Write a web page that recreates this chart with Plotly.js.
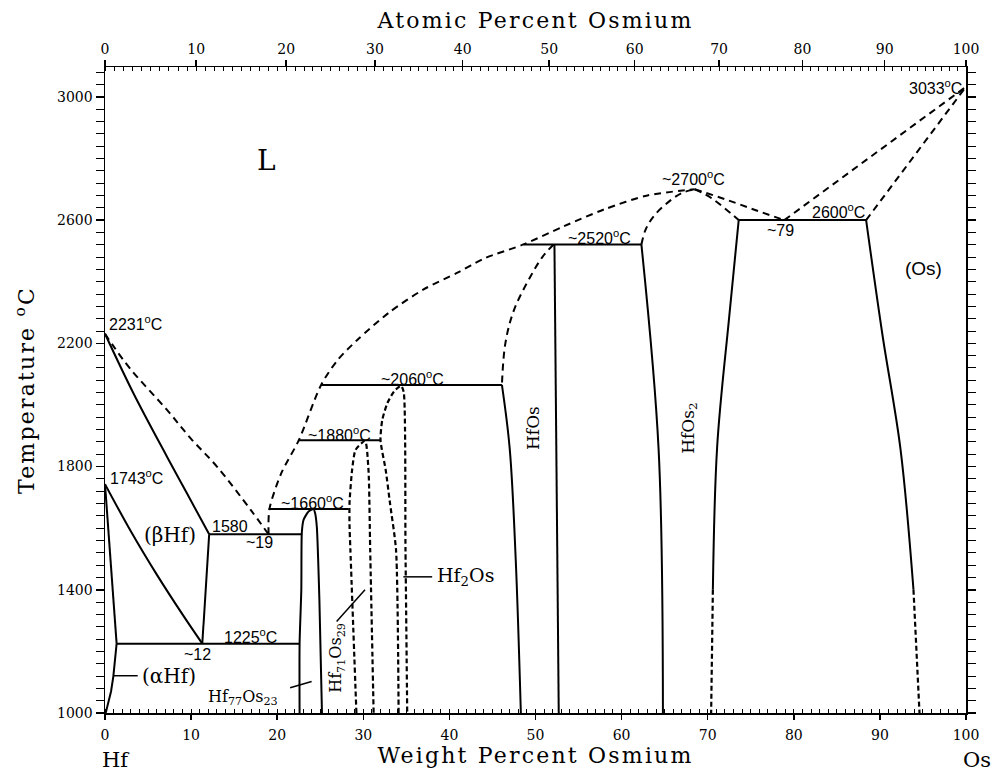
<!DOCTYPE html>
<html><head><meta charset="utf-8">
<script src="https://cdn.plot.ly/plotly-3.0.1.min.js"></script>
<style>
html,body{margin:0;padding:0;background:#fff;}
#chart{width:992px;height:775px;}
svg text.xtitle, svg text.x2title, svg text.ytitle {letter-spacing:2.2px;}
</style></head><body><div id="chart"></div><script>
// ---------- data (wt% Os, temperature °C) ----------
const liqHfX = [0, 1, 3, 7.2, 10, 13, 16.9, 19];
const liqHfT = [2231, 2190, 2115, 1984, 1890, 1800, 1660, 1580];
const solBetaX = [0, 3.3, 7.2, 9.5, 12.1];
const solBetaT = [2231, 2038, 1832, 1714, 1580];
const betaSolvX = [12.1, 11.3];
const betaSolvT = [1580, 1225];
const betaTransX = [0, 3, 6, 9, 11.3];
const betaTransT = [1743, 1590, 1450, 1320, 1225];
const alphaTransX = [0, 1.35];
const alphaTransT = [1743, 1225];
const alphaSolvX = [1.35, 1.2, 0.97, 0.7, 0.4, 0.08];
const alphaSolvT = [1225, 1180, 1119, 1070, 1032, 1000];
const hf77X = [22.6, 22.6, 22.8, 22.86, 23.06, 23.64, 24.22, 24.4, 24.6, 24.9, 25.2];
const hf77T = [1000, 1225, 1400, 1586, 1627, 1654, 1662, 1649, 1605, 1368, 1000];
const hf71X = [29.2, 28.5, 28.4, 28.4, 28.7, 29.1, 30.2, 30.6, 30.8, 31.2];
const hf71T = [1000, 1530, 1610, 1681, 1789, 1854, 1883, 1789, 1530, 1000];
const hf2OsX = [34.1, 33.8, 33.1, 32.6, 32.0, 32.2, 32.8, 33.6, 34.4, 34.7, 34.9, 35.1];
const hf2OsT = [1000, 1530, 1681, 1789, 1885, 1951, 2006, 2045, 2062, 2040, 1530, 1000];
const domeX = [19, 19.1, 20.5, 22.5, 25.1, 27, 29.3, 33, 37, 41, 44, 48.6, 53.3, 58, 63, 68.5];
const domeT = [1580, 1662, 1780, 1885, 2065, 2145, 2211, 2300, 2375, 2430, 2475, 2521, 2580, 2635, 2680, 2700];
const hfOsDashX = [52.1, 50.8, 49.4, 47.5, 46.5, 46.1];
const hfOsDashT = [2521, 2480, 2416, 2308, 2200, 2065];
const hfOsLeftX = [46.1, 47.0, 47.7, 48.3];
const hfOsLeftT = [2065, 1860, 1500, 1000];
const hfOsRightX = [52.2, 52.7];
const hfOsRightT = [2521, 1000];
const hfOs2DashLX = [62.3, 62.8, 63.8, 65.5, 67, 68.5];
const hfOs2DashLT = [2521, 2570, 2615, 2660, 2688, 2700];
const hfOs2LeftX = [62.3, 64.3, 64.8];
const hfOs2LeftT = [2521, 1855, 1000];
const hfOs2DashRX = [68.5, 70.5, 73.6];
const hfOs2DashRT = [2700, 2670, 2600];
const hfOs2RightX = [73.6, 72.5, 71.1, 70.6];
const hfOs2RightT = [2600, 2287, 1865, 1400];
const hfOs2LowX = [70.6, 70.4];
const hfOs2LowT = [1400, 1000];
const liq79X = [68.5, 72, 75.5, 78.9];
const liq79T = [2700, 2668, 2633, 2600];
const liqOsX = [78.9, 100];
const liqOsT = [2600, 3033];
const solOsX = [88.4, 100];
const solOsT = [2600, 3033];
const osSolvX = [88.4, 90.3, 92.4, 93.9];
const osSolvT = [2600, 2227, 1855, 1400];
const osSolvLowX = [93.9, 94.6];
const osSolvLowT = [1400, 1000];
// invariant isotherms [x1, x2, T]
const iso1225 = [1.35, 22.6, 1225];
const iso1580 = [12.1, 22.9, 1580];
const iso1660 = [19.0, 28.3, 1662];
const iso1880 = [22.5, 32.0, 1885];
const iso2060 = [25.1, 46.1, 2065];
const iso2520 = [48.6, 62.3, 2521];
const iso2600 = [73.6, 88.4, 2600];
// leader lines
const alphaLeadX = [0.93, 3.8], alphaLeadT = [1121, 1121];
const hf77LeadX = [21.5, 24.0], hf77LeadT = [1082, 1102];
const hf71LeadX = [26.9, 30.2], hf71LeadT = [1297, 1400];
const hf2OsLeadX = [34.65, 38.0], hf2OsLeadT = [1442, 1442];
// axes
const wtTicks = [0,10,20,30,40,50,60,70,80,90,100];
const atTicks = [0,10,20,30,40,50,60,70,80,90,100];
const tempTicks = [1000,1400,1800,2200,2600,3000];
const M_HF = 178.49, M_OS = 190.23;
function atToWt(a){ return 100*a*M_OS/(a*M_OS+(100-a)*M_HF); }
const atMinor = [];
for (let a = 0; a <= 100; a++) atMinor.push(atToWt(a));

// ---------- traces ----------
const traces = [];
function ln(x, y, dashed, dashpat, w, smooth){
  const line = {color:'#000', width: w || 2, dash: dashed ? (dashpat || '7px,5px') : 'solid'};
  if (smooth) { line.shape = 'spline'; line.smoothing = smooth; }
  traces.push({x:x, y:y, type:'scatter', mode:'lines', hoverinfo:'skip', showlegend:false, line:line});
}
function iso(a){ ln([a[0], a[1]], [a[2], a[2]], false); }
ln(liqHfX, liqHfT, true, null, 2, 1);
ln(solBetaX, solBetaT, false, null, 2, 1);
ln(betaSolvX, betaSolvT, false);
ln(betaTransX, betaTransT, false, null, 2, 1);
ln(alphaTransX, alphaTransT, false);
ln(alphaSolvX, alphaSolvT, false);
ln(hf77X, hf77T, false, null, 2, 0.6);
ln(hf71X, hf71T, true, '5px,3px', 2.2, 0.6);
ln(hf2OsX, hf2OsT, true, '5px,3px', 2.2, 0.6);
ln(domeX, domeT, true, null, 2, 0.8);
ln(hfOsDashX, hfOsDashT, true, null, 2, 1);
ln(hfOsLeftX, hfOsLeftT, false, null, 2, 1);
ln(hfOsRightX, hfOsRightT, false);
ln(hfOs2DashLX, hfOs2DashLT, true, null, 2, 1);
ln(hfOs2LeftX, hfOs2LeftT, false, null, 2, 1);
ln(hfOs2DashRX, hfOs2DashRT, true, null, 2, 1);
ln(hfOs2RightX, hfOs2RightT, false, null, 2, 1);
ln(hfOs2LowX, hfOs2LowT, true, '5px,3px', 2.2);
ln(liq79X, liq79T, true, null, 2, 1);
ln(liqOsX, liqOsT, true);
ln(solOsX, solOsT, true);
ln(osSolvX, osSolvT, false, null, 2, 1);
ln(osSolvLowX, osSolvLowT, true, '5px,3px', 2.2);
[iso1225, iso1580, iso1660, iso1880, iso2060, iso2520, iso2600].forEach(iso);
ln(alphaLeadX, alphaLeadT, false, null, 1.5);
ln(hf77LeadX, hf77LeadT, false, null, 1.5);
ln(hf71LeadX, hf71LeadT, false, null, 1.5);
ln(hf2OsLeadX, hf2OsLeadT, false, null, 1.5);
// invisible trace to activate the top (atomic %) axis
traces.push({x:[0], y:[1000], xaxis:'x2', yaxis:'y', type:'scatter', mode:'markers',
  marker:{opacity:0}, hoverinfo:'skip', showlegend:false});

// ---------- annotations ----------
const SANS = 'Liberation Sans, Arial, sans-serif';
const SERIF = 'DejaVu Serif, serif';
function lab(text, x, y, opt){
  opt = opt || {};
  return {text:text, x:x, y:y, xref:opt.xref||'x', yref:opt.yref||'y', showarrow:false,
    xanchor:opt.xa||'center', yanchor:opt.ya||'middle', textangle:opt.angle||0,
    font:{family:opt.family||SANS, size:opt.size||16, color:'#000'}};
}
const annotations = [
  lab('L', 18.7, 2794, {family:SERIF, size:28}),
  lab('2231<sup>o</sup>C', 0.2, 2266, {xa:'left'}),
  lab('1743<sup>o</sup>C', 0.3, 1765, {xa:'left'}),
  lab('1580', 12.2, 1605, {xa:'left'}),
  lab('~19', 17.9, 1553),
  lab('(\u03b2Hf)', 7.6, 1579, {family:SERIF, size:20}),
  lab('~12', 10.7, 1190),
  lab('1225<sup>o</sup>C', 16.9, 1251),
  lab('(\u03b1Hf)', 4.1, 1121, {xa:'left', family:SERIF, size:20}),
  lab('Hf<sub>77</sub>Os<sub>23</sub>', 16.0, 1050, {family:SERIF, size:16}),
  lab('Hf<sub>71</sub>Os<sub>29</sub>', 26.9, 1178, {family:SERIF, size:16, angle:-90}),
  lab('~1660<sup>o</sup>C', 24.1, 1685),
  lab('~1880<sup>o</sup>C', 27.2, 1906),
  lab('~2060<sup>o</sup>C', 35.7, 2088),
  lab('Hf<sub>2</sub>Os', 38.3, 1442, {xa:'left', family:SERIF, size:19}),
  lab('HfOs', 49.7, 1925, {family:SERIF, size:17, angle:-90}),
  lab('HfOs<sub>2</sub>', 67.8, 1925, {family:SERIF, size:17, angle:-90}),
  lab('~2520<sup>o</sup>C', 57.4, 2545),
  lab('~2700<sup>o</sup>C', 68.3, 2736),
  lab('~79', 78.4, 2565),
  lab('2600<sup>o</sup>C', 85.2, 2630),
  lab('3033<sup>o</sup>C', 99.8, 3032, {xa:'right'}),
  lab('(Os)', 95.1, 2444, {size:19}),
  lab('Hf', 0.0128, -0.0728, {xref:'paper', yref:'paper', family:SERIF, size:21}),
  lab('Os', 1.0128, -0.0728, {xref:'paper', yref:'paper', family:SERIF, size:21})
];

const tickFont = {family:SERIF, size:14, color:'#000'};
const layout = {
  width:992, height:775, paper_bgcolor:'#fff', plot_bgcolor:'#fff',
  margin:{l:105, r:26, t:67, b:62}, showlegend:false,
  xaxis:{range:[0,100], tickmode:'array', tickvals:wtTicks, ticks:'outside', ticklen:5, tickwidth:1.5,
    tickcolor:'#000', showline:true, linecolor:'#000', linewidth:1.5, showgrid:false, zeroline:false,
    tickfont:tickFont, ticklabelstandoff:4,
    minor:{dtick:1, tick0:0, ticks:'inside', ticklen:4, tickcolor:'#000', tickwidth:1},
    title:{text:'Weight Percent Osmium', font:{family:SERIF, size:22, color:'#000'}, standoff:4}},
  xaxis2:{range:[0,100], overlaying:'x', side:'top', tickmode:'array',
    tickvals:atTicks.map(atToWt), ticktext:atTicks.map(String), ticks:'outside', ticklen:6, tickwidth:1.5,
    tickcolor:'#000', showline:true, linecolor:'#000', linewidth:1.5, showgrid:false, zeroline:false,
    tickfont:tickFont, minor:{tickmode:'array', tickvals:atMinor, ticks:'inside', ticklen:4, tickcolor:'#000', tickwidth:1},
    title:{text:'Atomic Percent Osmium', font:{family:SERIF, size:22, color:'#000'}, standoff:6}},
  yaxis:{range:[1000,3097], tickmode:'array', tickvals:tempTicks, ticks:'outside', ticklen:8, tickwidth:1.5,
    tickcolor:'#000', showline:true, linecolor:'#000', linewidth:1.5, mirror:'allticks', showgrid:false,
    zeroline:false, tickfont:tickFont,
    minor:{dtick:40, tick0:1000, ticks:'outside', ticklen:4, tickcolor:'#000', tickwidth:1},
    title:{text:'Temperature <sup>o</sup>C', font:{family:SERIF, size:22, color:'#000'}, standoff:16}},
  annotations:annotations
};
Plotly.newPlot('chart', traces, layout, {staticPlot:true, displayModeBar:false});
</script></body></html>
